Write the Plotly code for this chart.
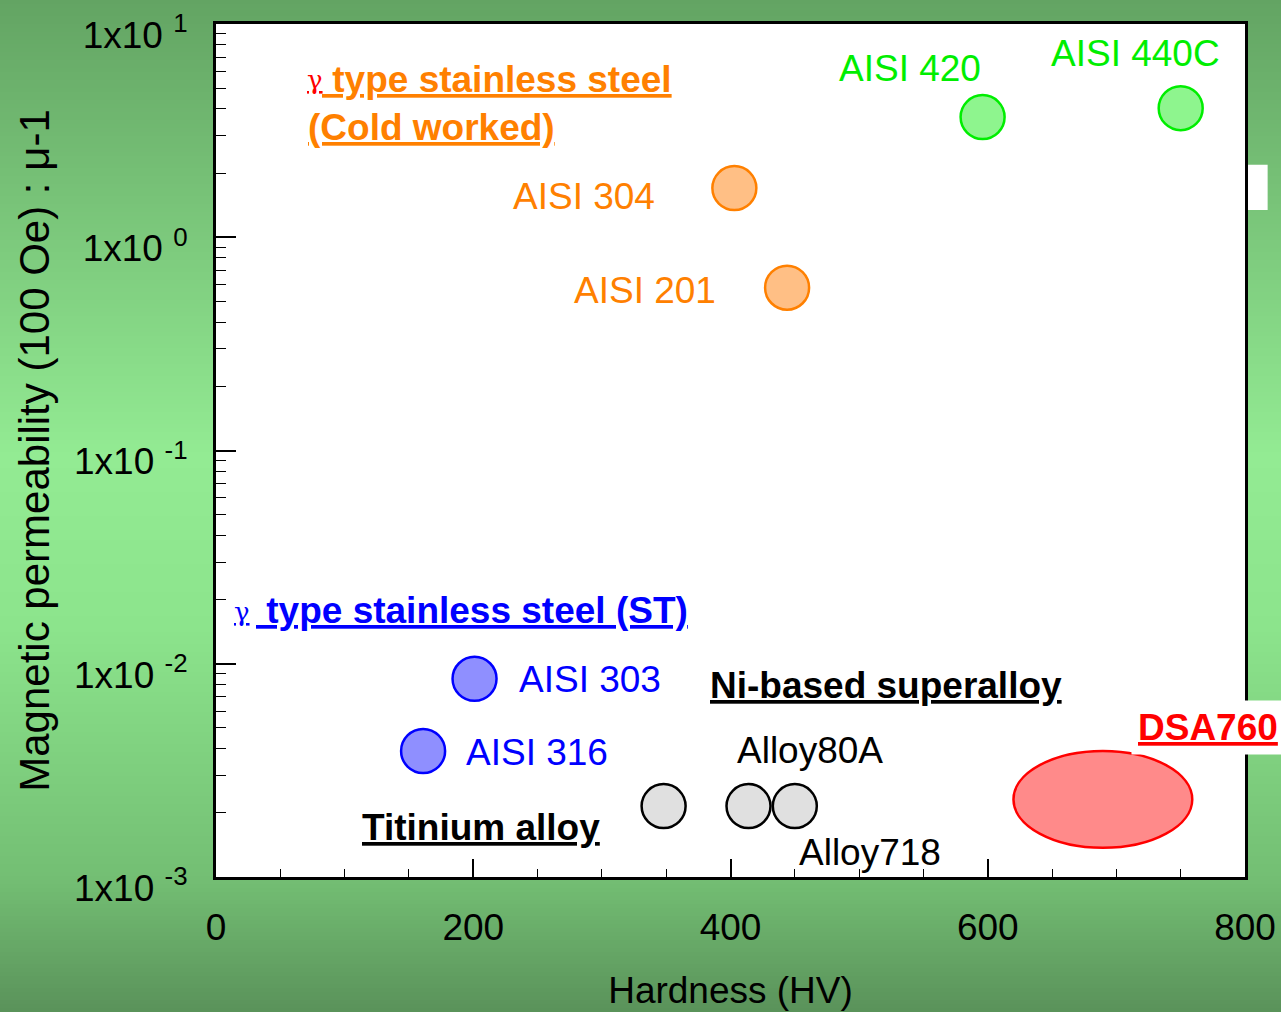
import plotly.graph_objects as go

# ---- data: Vickers hardness (HV) vs magnetic permeability (mu - 1) at 100 Oe ----
cold_worked_names = ["AISI 304", "AISI 201"]
cold_worked_hv = [403, 444]
cold_worked_mu = [1.70, 0.58]

martensitic_names = ["AISI 420", "AISI 440C"]
martensitic_hv = [596, 750]
martensitic_mu = [3.66, 4.03]

solution_treated_names = ["AISI 303", "AISI 316"]
solution_treated_hv = [201, 161]
solution_treated_mu = [8.5e-3, 3.9e-3]

other_alloy_names = ["Titinium alloy", "Alloy80A", "Alloy718"]
other_alloy_hv = [348, 414, 450]
other_alloy_mu = [2.15e-3, 2.15e-3, 2.15e-3]

# DSA760 occupies a range of hardness and permeability
dsa760_hv_range = [620, 759]
dsa760_mu_range = [1.37e-3, 3.9e-3]

x_tick_vals = [0, 200, 400, 600, 800]
y_tick_vals = [1e-3, 1e-2, 1e-1, 1e0, 1e1]
y_tick_text = ["1x10 <sup>-3</sup>", "1x10 <sup>-2</sup>", "1x10 <sup>-1</sup>",
               "1x10 <sup>0</sup>", "1x10 <sup>1</sup>"]

ORANGE = "#ff8000"
GREEN = "#00ee00"
BLUE = "#0000ff"
RED = "#ff0000"
SANS = "Liberation Sans, Arial, sans-serif"
SERIF = "DejaVu Serif, Liberation Serif, serif"

W, H = 1281, 1012
ML, MR, MT, MB = 216, 36, 24, 135
PW, PH = W - ML - MR, H - MT - MB

fig = go.Figure()


def add_group(hv, mu, names, line_color, fill_color):
    fig.add_trace(go.Scatter(
        x=hv, y=mu, mode="markers", text=names, hoverinfo="text+x+y",
        marker=dict(size=44, color=fill_color, line=dict(color=line_color, width=2.5)),
        showlegend=False,
    ))


add_group(cold_worked_hv, cold_worked_mu, cold_worked_names, ORANGE, "#ffbf85")
add_group(martensitic_hv, martensitic_mu, martensitic_names, GREEN, "#8ef58e")
add_group(solution_treated_hv, solution_treated_mu, solution_treated_names, BLUE, "#8f8fff")
add_group(other_alloy_hv, other_alloy_mu, other_alloy_names, "#000000", "#e0e0e0")

# ---- background: vertical green gradient over the whole page ----
stops = [(0.0, (99, 164, 99)), (0.45, (147, 235, 147)), (0.62, (140, 228, 140)),
         (0.87, (115, 190, 115)), (1.0, (90, 146, 90))]


def grad(t):
    for (t0, c0), (t1, c1) in zip(stops[:-1], stops[1:]):
        if t <= t1:
            f = (t - t0) / (t1 - t0) if t1 > t0 else 0
            return "rgb(%d,%d,%d)" % tuple(round(a + (b - a) * f) for a, b in zip(c0, c1))
    return "rgb(%d,%d,%d)" % stops[-1][1]


shapes = []
band = 4
for top in range(0, H, band):
    t = (top + band / 2) / H
    y_hi = (H - MB - top) / PH
    y_lo = (H - MB - top - band - 1) / PH
    shapes.append(dict(type="rect", xref="paper", yref="paper", layer="below",
                       x0=-ML / PW, x1=1 + MR / PW, y0=y_lo, y1=y_hi,
                       fillcolor=grad(t), line=dict(width=0)))
# white plotting area
shapes.append(dict(type="rect", xref="paper", yref="paper", layer="below",
                   x0=0, x1=1, y0=0, y1=1, fillcolor="white", line=dict(width=0)))
# small white panel at the right edge
shapes.append(dict(type="rect", xref="paper", yref="paper", layer="below",
                   x0=1.0, x1=1.022, y0=0.782, y1=0.835, fillcolor="white", line=dict(width=0)))
# DSA760 region
shapes.append(dict(type="circle", xref="x", yref="y", layer="above",
                   x0=dsa760_hv_range[0], x1=dsa760_hv_range[1],
                   y0=dsa760_mu_range[0], y1=dsa760_mu_range[1],
                   fillcolor="#ff8a8a", line=dict(color=RED, width=2.5)))


def px_to_x(px):
    return (px - ML) / PW


def py_to_y(py):
    return (H - MB - py) / PH


annotations = []


def label(text, px, py, color, size=37, bold=False, underline=False, family=SANS,
          xanchor="center", bgcolor=None, pad=1):
    a = dict(text=("<b>%s</b>" % text) if bold else text, xref="paper", yref="paper",
             x=px_to_x(px), y=py_to_y(py), xanchor=xanchor, yanchor="middle",
             showarrow=False, borderpad=pad,
             font=dict(family=family, size=size, color=color,
                       lineposition="under" if underline else "none"))
    if bgcolor:
        a["bgcolor"] = bgcolor
    annotations.append(a)


label("AISI 440C", 1135, 53, GREEN)
label("AISI 420", 910, 68, GREEN)
label("AISI 304", 584, 196, ORANGE)
label("AISI 201", 645, 290, ORANGE)
label("AISI 303", 590, 679, BLUE)
label("AISI 316", 537, 752, BLUE)
label("Alloy80A", 810, 750, "black")
label("Alloy718", 870, 852, "black")
label("Titinium alloy", 481, 827, "black", bold=True, underline=True)
label("Ni-based superalloy", 886, 685, "black", bold=True, underline=True)
label("DSA760", 1208, 727, RED, bold=True, underline=True, bgcolor="white", pad=6)

# group headings
label("γ", 305, 80, RED, size=26, underline=True, family=SERIF, xanchor="left")
label("\u00a0type stainless steel", 320, 79, ORANGE, bold=True, underline=True,
      xanchor="left")
label("(Cold worked)", 306, 128, ORANGE, bold=True, underline=True, xanchor="left")
label("γ", 232, 612, BLUE, size=26, underline=True, family=SERIF, xanchor="left")
label("\u00a0type stainless steel (ST)", 254, 610, BLUE, bold=True,
      underline=True, xanchor="left")

axis_common = dict(showline=True, linewidth=3, linecolor="black", mirror=True,
                   showgrid=False, zeroline=False, ticks="inside", tickcolor="black",
                   automargin=False, ticklabeloverflow="allow",
                   tickfont=dict(family=SANS, size=37, color="black"))

fig.update_layout(
    width=W, height=H,
    margin=dict(l=ML, r=MR, t=MT, b=MB, pad=0),
    paper_bgcolor="rgb(140,228,140)",
    plot_bgcolor="white",
    font=dict(family=SANS, color="black"),
    shapes=shapes,
    annotations=annotations,
    xaxis=dict(range=[0, 800], tickmode="array", tickvals=x_tick_vals,
               ticklen=18, tickwidth=1.5, ticklabelstandoff=16,
               minor=dict(ticks="inside", dtick=50, tick0=0, ticklen=8, tickwidth=1,
                          tickcolor="black", showgrid=False),
               title=dict(text="Hardness (HV)", font=dict(family=SANS, size=37),
                          standoff=30),
               **axis_common),
    yaxis=dict(type="log", range=[-3, 1], tickmode="array", tickvals=y_tick_vals,
               ticktext=y_tick_text, ticklen=20, tickwidth=1.5, ticklabelstandoff=18,
               ticklabelshift=11,
               minor=dict(ticks="inside", dtick="D1", ticklen=10, tickwidth=1,
                          tickcolor="black", showgrid=False),
               title=dict(text="Magnetic permeability (100 Oe) : μ-1",
                          font=dict(family=SANS, size=42), standoff=12),
               **axis_common),
)

fig.write_html("out.html")
